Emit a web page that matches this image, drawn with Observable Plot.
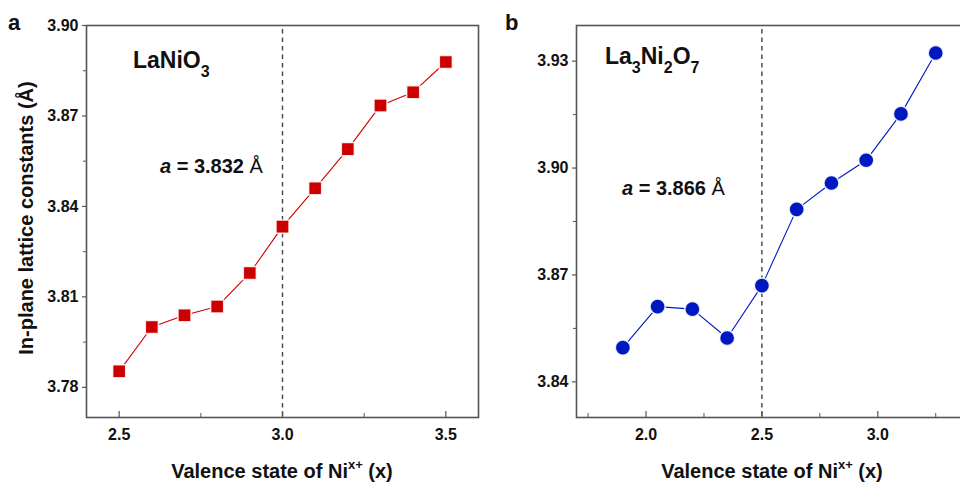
<!DOCTYPE html>
<html><head><meta charset="utf-8">
<script src="https://cdn.jsdelivr.net/npm/d3@7"></script>
<script src="https://cdn.jsdelivr.net/npm/@observablehq/plot@0.6"></script>
<style>
body{margin:0;background:#fff;}
#wrap{position:relative;width:960px;height:484px;overflow:hidden;background:#fff;}
#wrap svg{position:absolute;top:0;}
</style></head><body><div id="wrap"></div>
<script>
// ---- data ----
const valenceA = [2.5, 2.6, 2.7, 2.8, 2.9, 3.0, 3.1, 3.2, 3.3, 3.4, 3.5];
const latticeA = [3.7853, 3.8000, 3.8039, 3.8068, 3.8179, 3.8333, 3.8460, 3.8590, 3.8735, 3.8779, 3.8879];
const valenceB = [1.9, 2.05, 2.2, 2.35, 2.5, 2.65, 2.8, 2.95, 3.1, 3.25];
const latticeB = [3.8496, 3.8611, 3.8604, 3.8523, 3.8670, 3.8884, 3.8958, 3.9022, 3.9152, 3.9323];
const yTicksA = [3.78, 3.81, 3.84, 3.87, 3.90];
const yMinorA = [3.795, 3.825, 3.855, 3.885];
const xTicksA = [2.5, 3.0, 3.5];
const xMinorA = [2.75, 3.25];
const yTicksB = [3.84, 3.87, 3.90, 3.93];
const yMinorB = [3.855, 3.885, 3.915];
const xTicksB = [2.0, 2.5, 3.0];
const xMinorB = [1.75, 2.25, 2.75, 3.25];
const refA = 3.0, refB = 2.5;
const compoundA = ["LaNi", "O", "3"];
const compoundB = ["La", "3", "Ni", "2", "O", "7"];
const aValueA = "3.832", aValueB = "3.866";
const yTitle = "In-plane lattice constants (Å)";

const font = '"Liberation Sans", Arial, Helvetica, sans-serif';
const H = 484, mT = 25, mB = 67;
const ph = H - mT - mB;

function makePanel(cfg) {
  const data = cfg.xs.map((x, i) => ({x, y: cfg.ys[i]}));
  return Plot.plot({
    width: cfg.width, height: H,
    marginLeft: cfg.mL, marginRight: cfg.mR, marginTop: mT, marginBottom: mB,
    x: {domain: cfg.xDom}, y: {domain: cfg.yDom},
    style: {fontFamily: font, fontSize: "16px", fontWeight: "bold", color: "#111", background: "transparent", overflow: "visible"},
    marks: [
      Plot.ruleX([cfg.ref], {stroke: "#444", strokeWidth: 1.4, strokeDasharray: "4.5,4", insetTop: 4}),
      Plot.line(data, {x: "x", y: "y", stroke: cfg.color, strokeWidth: 1.1}),
      Plot.dot(data, {x: "x", y: "y", symbol: cfg.symbol, r: cfg.r, fill: cfg.color, stroke: "#fff", strokeWidth: 1.6, strokeOpacity: 0.85}),
      Plot.frame({stroke: "#555", strokeWidth: 1.6}),
      Plot.axisY({ticks: cfg.yT, tickSize: 4, tickPadding: 4, tickFormat: d3.format(".2f"), label: null, stroke: "#555", strokeWidth: 1.2}),
      Plot.axisY({ticks: cfg.yM, tickSize: 3, tickFormat: () => "", label: null, stroke: "#555"}),
      Plot.ruleX(cfg.xT, {stroke: "#555", strokeWidth: 1.2, insetTop: ph - 6}),
      Plot.ruleX(cfg.xM, {stroke: "#555", strokeWidth: 1, insetTop: ph - 4}),
      Plot.axisX({ticks: cfg.xT, tickSize: 0, tickPadding: 11, tickFormat: d3.format(".1f"), label: null})
    ]
  });
}

const wrap = document.getElementById("wrap");
const pA = makePanel({xs: valenceA, ys: latticeA, xDom: [2.4, 3.6], yDom: [3.77, 3.90],
  xT: xTicksA, xM: xMinorA, yT: yTicksA, yM: yMinorA, ref: refA, color: "#cc0000", symbol: "square", r: 7.4,
  width: 480, mL: 86, mR: 2});
const pB = makePanel({xs: valenceB, ys: latticeB, xDom: [1.7, 3.4], yDom: [3.83, 3.94],
  xT: xTicksB, xM: xMinorB, yT: yTicksB, yM: yMinorB, ref: refB, color: "#0018c0", symbol: "circle", r: 7.6,
  width: 494, mL: 96, mR: 4});
pA.style.left = "0px";
pB.style.left = "480px";
wrap.appendChild(pA);
wrap.appendChild(pB);

function addText(svg, x, y, parts, size, anchor, transform) {
  const t = d3.select(svg).append("text")
    .attr("font-family", font).attr("font-size", size).attr("font-weight", "bold")
    .attr("fill", "#111").attr("text-anchor", anchor || "start");
  if (transform) t.attr("transform", transform); else t.attr("x", x).attr("y", y);
  let shift = 0;
  for (const p of parts) {
    const s = t.append("tspan").text(p.t);
    const target = p.shift || 0;
    if (target !== shift) { s.attr("dy", target - shift); shift = target; }
    if (p.size) s.attr("font-size", p.size);
    if (p.italic) s.attr("font-style", "italic");
    if (p.weight) s.attr("font-weight", p.weight);
  }
  return t;
}
const sub = (t) => ({t, shift: 9, size: 16});
const norm = (t) => ({t, shift: 0});
const xTitleParts = [norm("Valence state of Ni"), {t: "x+", shift: -9, size: 13}, norm(" (x)")];
const aParts = (v) => [{t: "a", italic: true}, norm(" = " + v + " "), {t: "Å", weight: "normal"}];

// panel a
addText(pA, 8, 30, [norm("a")], 22);
addText(pA, 133, 68, [norm(compoundA[0] + compoundA[1]), sub(compoundA[2])], 23);
addText(pA, 160, 173, aParts(aValueA), 20);
addText(pA, 0, 0, [norm(yTitle)], 20, "middle", "translate(33,218) rotate(-90)");
addText(pA, 282, 478, xTitleParts, 20, "middle");
// panel b
addText(pB, 25, 30, [norm("b")], 22);
addText(pB, 125, 64, [norm(compoundB[0]), sub(compoundB[1]), norm(compoundB[2]), sub(compoundB[3]), norm(compoundB[4]), sub(compoundB[5])], 23);
addText(pB, 142, 195, aParts(aValueB), 20);
addText(pB, 292, 478, xTitleParts, 20, "middle");
</script></body></html>
